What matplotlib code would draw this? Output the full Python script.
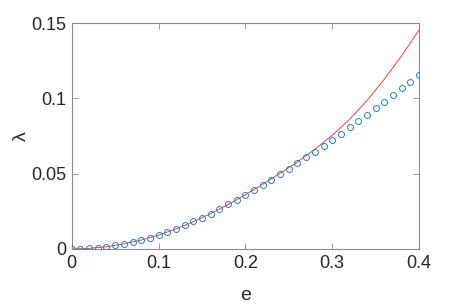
import matplotlib
matplotlib.use("Agg")
import matplotlib.pyplot as plt
import numpy as np

# Blue circle data
e_pts = [0.00, 0.01, 0.02, 0.03, 0.04, 0.05, 0.06, 0.07, 0.08, 0.09, 0.10,
         0.11, 0.12, 0.13, 0.14, 0.15, 0.16, 0.17, 0.18, 0.19, 0.20,
         0.21, 0.22, 0.23, 0.24, 0.25, 0.26, 0.27, 0.28, 0.29, 0.30,
         0.31, 0.32, 0.33, 0.34, 0.35, 0.36, 0.37, 0.38, 0.39, 0.40]
lam_pts = [0.0000, 0.0001, 0.0004, 0.0009, 0.0016, 0.0025, 0.0035, 0.0047, 0.0060, 0.0076, 0.0093,
           0.0114, 0.0133, 0.0156, 0.0183, 0.0208, 0.0235, 0.0264, 0.0297, 0.0326, 0.0358,
           0.0390, 0.0425, 0.0458, 0.0496, 0.0531, 0.0569, 0.0609, 0.0646, 0.0686, 0.0726,
           0.0766, 0.0810, 0.0852, 0.0892, 0.0936, 0.0978, 0.1023, 0.1066, 0.1111, 0.1153]

# Red curve data
e_line = [0.0, 0.02, 0.04, 0.06, 0.08, 0.1, 0.12, 0.14, 0.16, 0.18, 0.2,
          0.22, 0.24, 0.26, 0.28, 0.3, 0.32, 0.34, 0.36, 0.38, 0.4]
lam_line = [0.0, 0.0004, 0.0015, 0.0034, 0.0059, 0.0092, 0.0133, 0.0181, 0.0235, 0.0295, 0.0360,
            0.0430, 0.0503, 0.0578, 0.0662, 0.0755, 0.0860, 0.0985, 0.1127, 0.1283, 0.1454]

xticks = [0, 0.1, 0.2, 0.3, 0.4]
xticklabels = ["0", "0.1", "0.2", "0.3", "0.4"]
yticks = [0, 0.05, 0.1, 0.15]
yticklabels = ["0", "0.05", "0.1", "0.15"]

plt.rcParams['font.family'] = ['Liberation Sans', 'DejaVu Sans']

fig = plt.figure(figsize=(4.63, 3.07), dpi=100)
ax = fig.add_axes([0.155, 0.189, 0.75, 0.736])

ax.plot(e_line, lam_line, color='#ff2020', linewidth=0.6, zorder=2)
ax.plot(e_pts, lam_pts, linestyle='none', marker='o', markersize=4.3,
        markerfacecolor='none', markeredgecolor='#1f80c8', markeredgewidth=0.7, zorder=3)

ax.set_xlim(0, 0.4)
ax.set_ylim(0, 0.15)
ax.set_xticks(xticks)
ax.set_xticklabels(xticklabels)
ax.set_yticks(yticks)
ax.set_yticklabels(yticklabels)

for s in ax.spines.values():
    s.set_color('#8c8c8c')
    s.set_linewidth(0.8)
ax.tick_params(direction='in', length=4, width=0.6, color='#8c8c8c',
               top=True, right=True, labelsize=13, labelcolor='#262626', pad=4)

ax.set_xlabel('e', fontsize=14, color='#262626', labelpad=11)
ax.set_ylabel('λ', fontsize=14, color='#262626', labelpad=1)

fig.savefig('out.png', dpi=100)
